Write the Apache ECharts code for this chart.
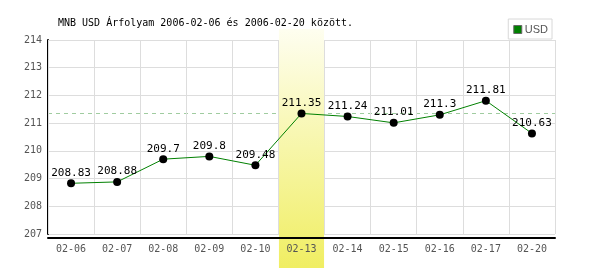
<!DOCTYPE html>
<html><head><meta charset="utf-8">
<script src="https://cdn.jsdelivr.net/npm/echarts@6/dist/echarts.min.js"></script>
<style>html,body{margin:0;padding:0;background:#fff}#c{width:600px;height:270px}</style>
</head><body><div id="c"></div>
<script>
const categories = ['02-06','02-07','02-08','02-09','02-10','02-13','02-14','02-15','02-16','02-17','02-20'];
const usdValues = [208.83,208.88,209.7,209.8,209.48,211.35,211.24,211.01,211.3,211.81,210.63];
const highlightCategory = '02-13';
const referenceValue = 211.35;
const yTicks = [207,208,209,210,211,212,213,214];
const titleText = 'MNB USD Árfolyam 2006-02-06 és 2006-02-20 között.';
const seriesName = 'USD';

(function(){
const mono = '"DejaVu Sans Mono", "Liberation Mono", monospace';
const chart = echarts.init(document.getElementById('c'), null, {renderer:'canvas'});
const option = {
  animation:false,
  color:['#008000'],
  title:{text:titleText,left:53,top:13,textStyle:{fontFamily:mono,fontSize:10,fontWeight:'normal',color:'#000'}},
  legend:{data:[{name:seriesName,itemStyle:{color:'#008000',borderColor:'#666',borderWidth:1}}],right:48,top:19,itemWidth:8,itemHeight:8,itemGap:4,
    borderColor:'#d8d8d8',borderWidth:1,padding:[5,4,4,5],
    icon:'rect',
    textStyle:{fontFamily:'"Liberation Sans Narrow","Liberation Sans",sans-serif',fontSize:11,color:'#555',padding:[0,0,0,-2]}},
  grid:{left:48,right:45,top:40,bottom:36},
  xAxis:{type:'category',data:categories,offset:4,z:3,
    axisLine:{lineStyle:{color:'#000',width:2}},axisTick:{show:false},
    axisLabel:{fontFamily:mono,fontSize:10,color:'#555',margin:6},
    splitLine:{show:true,lineStyle:{color:'#ddd',width:1}}},
  yAxis:{type:'value',min:yTicks[0],max:yTicks[yTicks.length-1],interval:1,z:0,
    axisLine:{show:true,lineStyle:{color:'#000',width:2}},axisTick:{show:false},
    axisLabel:{fontFamily:mono,fontSize:10,color:'#555',margin:6},
    splitLine:{lineStyle:{color:'#ddd',width:1}}},
  series:[
    {name:'ref',type:'line',data:[],z:0,silent:true,
     markLine:{silent:true,symbol:'none',label:{show:false},z:0,
      lineStyle:{color:'#a0cca0',type:[4,4],width:1},
      data:[{yAxis:referenceValue}]}},
    {name:seriesName,type:'line',data:usdValues,z:5,
    symbol:'circle',symbolSize:8,
    itemStyle:{color:'#000'},lineStyle:{color:'#008000',width:1},
    label:{show:true,position:'top',distance:1,fontFamily:mono,fontSize:11,color:'#000'}}
  ]
};
chart.setOption(option);
const idx = categories.indexOf(highlightCategory);
const c0 = chart.convertToPixel({xAxisIndex:0}, idx);
const c1 = chart.convertToPixel({xAxisIndex:0}, idx+1 < categories.length ? idx+1 : idx-1);
const half = Math.abs(c1-c0)/2;
const yTop = chart.convertToPixel({yAxisIndex:0}, yTicks[yTicks.length-1]);
chart.setOption({graphic:[{type:'rect',z:1,silent:true,
  shape:{x:c0-half+0.5,y:yTop-11,width:half*2-1,height:268-yTop+11},
  style:{fill:new echarts.graphic.LinearGradient(0,0,0,1,[{offset:0,color:'#fefef0'},{offset:1,color:'#f0ee62'}])}}]});
})();
</script></body></html>
